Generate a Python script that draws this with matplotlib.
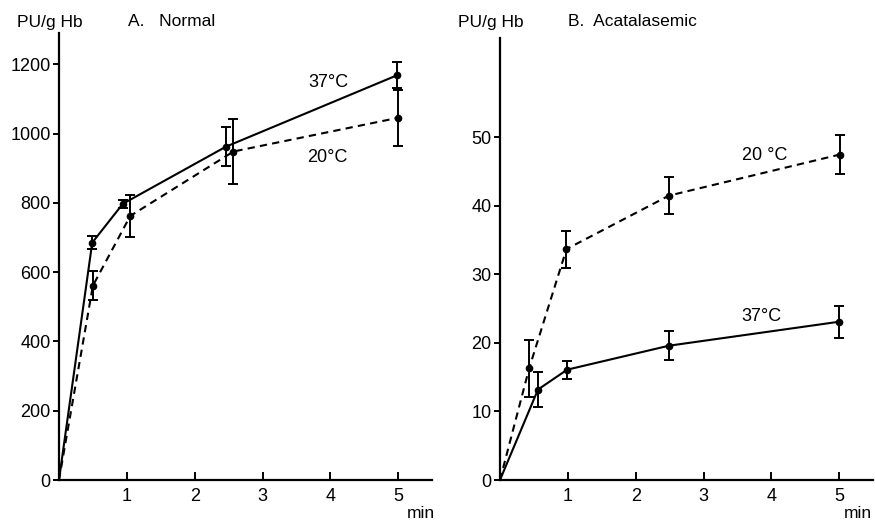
import numpy as np
import matplotlib
matplotlib.use('Agg')
from matplotlib import pyplot as plt

plt.rcParams['font.family'] = ['Liberation Sans', 'DejaVu Sans']

# A. Normal
a37_x = [0, 0.49, 0.94, 2.46, 4.98]
a37_y = [0, 685, 797, 962, 1168]
a37_e = [0, 18, 12, 57, 38]
a20_x = [0, 0.50, 1.05, 2.57, 4.99]
a20_y = [0, 561, 762, 948, 1045]
a20_e = [0, 42, 60, 95, 80]

# B. Acatalasemic
b37_x = [0, 0.56, 0.99, 2.49, 5.0]
b37_y = [0, 13.2, 16.1, 19.6, 23.1]
b37_e = [0, 2.6, 1.3, 2.1, 2.35]
b20_x = [0, 0.43, 0.98, 2.49, 5.01]
b20_y = [0, 16.3, 33.7, 41.5, 47.5]
b20_e = [0, 4.2, 2.7, 2.7, 2.9]

a_yticks = [0, 200, 400, 600, 800, 1000, 1200]
b_yticks = [0, 10, 20, 30, 40, 50]
xticks = [1, 2, 3, 4, 5]

fig = plt.figure(figsize=(8.75, 5.2), dpi=100)
axA = fig.add_axes([0.0674, 0.0769, 0.4266, 0.8596])
axB = fig.add_axes([0.5714, 0.0769, 0.4266, 0.8500])

def draw_series(ax, x, y, e, ls):
    x = np.array(x); y = np.array(y); e = np.array(e)
    ax.plot(x, y, color='k', ls=ls, lw=1.5, dashes=(3.5, 2.5) if ls == '--' else (None, None))
    ax.errorbar(x[1:], y[1:], yerr=e[1:], fmt='o', color='k', ms=4.5,
                elinewidth=1.4, capsize=3.5, capthick=1.4)

def style(ax, ymax, yticks):
    ax.set_xlim(0, 5.5)
    ax.set_ylim(0, ymax)
    ax.spines['top'].set_visible(False)
    ax.spines['right'].set_visible(False)
    ax.spines['left'].set_linewidth(1.6)
    ax.spines['bottom'].set_linewidth(1.6)
    ax.set_xticks(xticks)
    ax.set_yticks(yticks)
    ax.tick_params(axis='x', direction='in', length=6, width=1.4, labelsize=13, pad=6)
    ax.tick_params(axis='y', direction='out', length=4, width=1.4, labelsize=13, pad=2)

draw_series(axA, a37_x, a37_y, a37_e, '-')
draw_series(axA, a20_x, a20_y, a20_e, '--')
style(axA, 1290, a_yticks)
axA.text(3.97, 1148, '37°C', ha='center', va='center', fontsize=13)
axA.text(3.95, 932, '20°C', ha='center', va='center', fontsize=13)

draw_series(axB, b37_x, b37_y, b37_e, '-')
draw_series(axB, b20_x, b20_y, b20_e, '--')
style(axB, 64.5, b_yticks)
axB.text(3.9, 47.4, '20 °C', ha='center', va='center', fontsize=13)
axB.text(3.85, 23.9, '37°C', ha='center', va='center', fontsize=13)

fig.text(17/875, 1 - 22/520, 'PU/g Hb', ha='left', va='center', fontsize=12.5)
fig.text(128/875, 1 - 22/520, 'A.   Normal', ha='left', va='center', fontsize=12.5)
fig.text(458/875, 1 - 22/520, 'PU/g Hb', ha='left', va='center', fontsize=12.5)
fig.text(568/875, 1 - 22/520, 'B.  Acatalasemic', ha='left', va='center', fontsize=12.5)
fig.text(421/875, 1 - 514/520, 'min', ha='center', va='center', fontsize=12.5)
fig.text(858/875, 1 - 514/520, 'min', ha='center', va='center', fontsize=12.5)

fig.savefig('out.png', dpi=100)
